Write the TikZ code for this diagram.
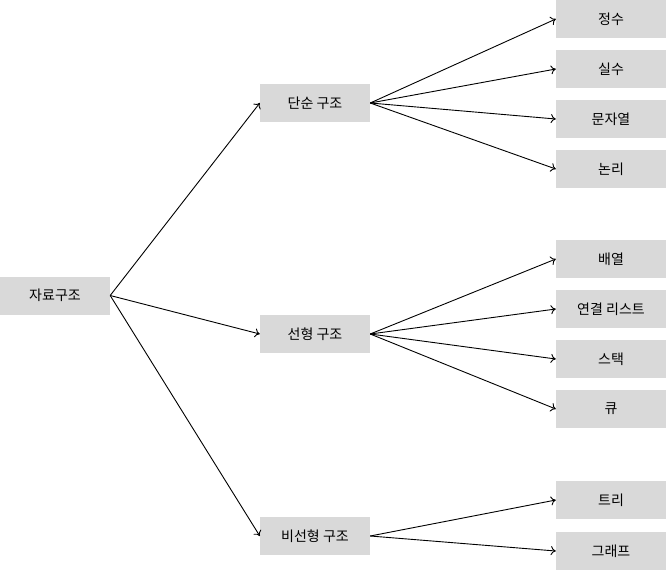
\documentclass[tikz,border=0pt]{standalone}
\usepackage{fontspec}
\setmainfont{Noto Sans CJK KR}
\usetikzlibrary{arrows.meta}
\begin{document}
\begin{tikzpicture}[x=1pt,y=-1pt,
  box/.style={fill={rgb,255:red,217;green,217;blue,217},minimum width=110pt,minimum height=38pt,inner sep=0pt,font=\fontsize{14}{16}\selectfont},
  link/.style={line width=0.9pt,-{To[length=5pt,width=9pt]}}]
\useasboundingbox (0,0) rectangle (666,571);
\node[box] (root) at (55,295.5) {자료구조};
\node[box] (s) at (315,103) {단순 구조};
\node[box] (l) at (315,334) {선형 구조};
\node[box] (n) at (315,536) {비선형 구조};
\node[box] (s1) at (611,19) {정수};
\node[box] (s2) at (611,69) {실수};
\node[box] (s3) at (611,119) {문자열};
\node[box] (s4) at (611,169) {논리};
\node[box] (l1) at (611,259) {배열};
\node[box] (l2) at (611,309) {연결 리스트};
\node[box] (l3) at (611,359) {스택};
\node[box] (l4) at (611,409) {큐};
\node[box] (n1) at (611,500) {트리};
\node[box] (n2) at (611,551) {그래프};
\foreach \c in {s,l,n} \draw[link] (root.east) -- (\c.west);
\foreach \c in {s1,s2,s3,s4} \draw[link] (s.east) -- (\c.west);
\foreach \c in {l1,l2,l3,l4} \draw[link] (l.east) -- (\c.west);
\foreach \c in {n1,n2} \draw[link] (n.east) -- (\c.west);
\end{tikzpicture}
\end{document}
